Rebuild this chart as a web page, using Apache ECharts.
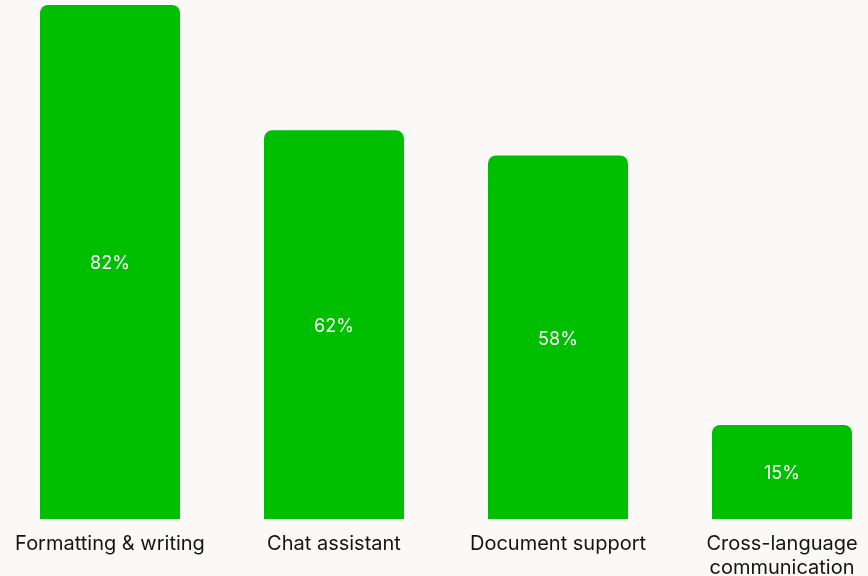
<!DOCTYPE html>
<html>
<head>
<meta charset="utf-8">
<script src="https://cdn.jsdelivr.net/npm/echarts@6/dist/echarts.min.js"></script>
<style>
  html, body { margin: 0; padding: 0; background: #faf9f7; }
  #chart { width: 868px; height: 576px; }
</style>
</head>
<body>
<div id="chart"></div>
<script>
// Share of respondents using each feature
const categories = ['Formatting & writing', 'Chat assistant', 'Document support', 'Cross-language\ncommunication'];
const shares = [82, 62, 58, 15];

const chart = echarts.init(document.getElementById('chart'), null, { renderer: 'canvas' });
chart.setOption({
  backgroundColor: '#faf9f7',
  animation: false,
  grid: { left: -2, right: -26, top: 5, bottom: 57, containLabel: false, outerBoundsMode: 'none' },
  xAxis: {
    type: 'category',
    data: categories,
    axisLine: { show: false },
    axisTick: { show: false },
    axisLabel: {
      color: '#141414',
      fontFamily: 'Inter',
      fontSize: 20,
      margin: 13,
      lineHeight: 24,
      interval: 0
    }
  },
  yAxis: {
    type: 'value',
    min: 0,
    max: 82,
    show: false,
    splitLine: { show: false }
  },
  series: [{
    type: 'bar',
    data: shares,
    barWidth: 140,
    itemStyle: { color: '#00bf00', borderRadius: [8, 8, 0, 0] },
    label: {
      show: true,
      position: 'inside',
      offset: [0, 2],
      formatter: '{c}%',
      color: '#ffffff',
      fontFamily: 'Inter',
      fontSize: 18
    }
  }]
});
</script>
</body>
</html>
